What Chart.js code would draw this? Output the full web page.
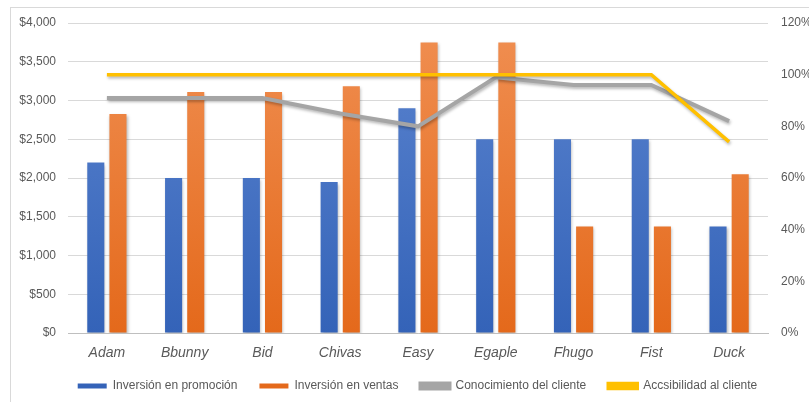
<!DOCTYPE html>
<html>
<head>
<meta charset="utf-8">
<script src="https://cdn.jsdelivr.net/npm/chart.js@4"></script>
<style>
  html, body { margin: 0; padding: 0; background: #fff; overflow: hidden; }
  #wrap { position: relative; width: 809px; height: 402px; }
  #frame { position: absolute; left: 10px; top: 7px; width: 830px; height: 430px; border: 1px solid #d9d9d9; }
  canvas { position: absolute; left: 0; top: 0; }
</style>
</head>
<body>
<div id="wrap">
  <div id="frame"></div>
  <canvas id="chart" width="809" height="402"></canvas>
</div>
<script>
var clientes = ['Adam', 'Bbunny', 'Bid', 'Chivas', 'Easy', 'Egaple', 'Fhugo', 'Fist', 'Duck']
var promocion = [2200, 2000, 2000, 1950, 2900, 2500, 2500, 2500, 1375]
var ventas = [2825, 3110, 3110, 3185, 3750, 3750, 1375, 1375, 2050]
var conocimiento = [91, 91, 91, 85, 80, 99, 96, 96, 82]
var accesibilidad = [100, 100, 100, 100, 100, 100, 100, 100, 74]

var tickColor = '#595959'
var gridColor = '#d9d9d9'

function barGradient(top, bottom) {
    return function (context) {
        var area = context.chart.chartArea
        if (!area) {
            return bottom
        }
        var g = context.chart.ctx.createLinearGradient(0, area.top, 0, area.bottom)
        g.addColorStop(0, top)
        g.addColorStop(1, bottom)
        return g
    }
}

// soft drop shadow like the office chart
var shadowPlugin = {
    id: 'shadow',
    beforeDatasetDraw: function (chart, args) {
        var ctx = chart.ctx
        ctx.save()
        ctx.shadowColor = 'rgba(0,0,0,0.28)'
        ctx.shadowBlur = 3
        ctx.shadowOffsetX = 1
        ctx.shadowOffsetY = 2
    },
    afterDatasetDraw: function (chart) {
        chart.ctx.restore()
    }
}

// nudge the legend to where the original sits
var legendShift = {
    id: 'legendShift',
    afterLayout: function (chart) {
        var lg = chart.legend
        lg.left += 13
        lg.right += 13
        lg.top -= 7
        lg.bottom -= 7
    }
}

new Chart(document.getElementById('chart'), {
    type: 'bar',
    data: {
        labels: clientes,
        datasets: [
            {
                label: 'Inversión en promoción',
                data: promocion,
                backgroundColor: barGradient('#5b84cf', '#3463b8'),
                yAxisID: 'y',
                order: 2
            },
            {
                label: 'Inversión en ventas',
                data: ventas,
                backgroundColor: barGradient('#f08f52', '#e4691b'),
                yAxisID: 'y',
                order: 2
            },
            {
                type: 'line',
                label: 'Conocimiento del cliente',
                data: conocimiento,
                borderColor: '#a5a5a5',
                backgroundColor: '#a5a5a5',
                borderWidth: 4,
                pointRadius: 0,
                tension: 0,
                yAxisID: 'y1',
                order: 1
            },
            {
                type: 'line',
                label: 'Accsibilidad al cliente',
                data: accesibilidad,
                borderColor: '#ffc000',
                backgroundColor: '#ffc000',
                borderWidth: 3.5,
                pointRadius: 0,
                tension: 0,
                yAxisID: 'y1',
                order: 0
            }
        ]
    },
    options: {
        responsive: false,
        animation: false,
        layout: { padding: { top: 23, left: 0, right: 0, bottom: -7 } },
        datasets: {
            bar: { categoryPercentage: 0.57, barPercentage: 0.77 }
        },
        plugins: {
            tooltip: { enabled: false },
            legend: {
                position: 'bottom',
                labels: {
                    boxWidth: 29,
                    boxHeight: 5,
                    padding: 22,
                    color: tickColor,
                    font: { family: 'Liberation Sans', size: 12 },
                    sort: function (a, b) { return a.datasetIndex - b.datasetIndex }
                }
            }
        },
        scales: {
            x: {
                grid: { display: false, drawTicks: false },
                border: { display: true, color: '#bfbfbf', width: 1 },
                ticks: {
                    color: tickColor,
                    padding: 12,
                    font: { family: 'Liberation Sans', size: 14, style: 'italic' }
                },
                afterFit: function (scale) { scale.height = 32 }
            },
            y: {
                position: 'left',
                min: 0,
                max: 4000,
                grid: { color: gridColor, drawTicks: false },
                border: { display: false },
                ticks: {
                    stepSize: 500,
                    color: tickColor,
                    padding: 12,
                    font: { family: 'Liberation Sans', size: 12 },
                    callback: function (v) { return '$' + v.toLocaleString('en-US') }
                },
                afterFit: function (scale) { scale.width = 68 }
            },
            y1: {
                position: 'right',
                min: 0,
                max: 120,
                grid: { display: false, drawTicks: false },
                border: { display: false },
                ticks: {
                    stepSize: 20,
                    color: tickColor,
                    padding: 13,
                    font: { family: 'Liberation Sans', size: 12 },
                    callback: function (v) { return v + '%' }
                },
                afterFit: function (scale) { scale.width = 41 }
            }
        }
    },
    plugins: [shadowPlugin, legendShift]
})
</script>
</body>
</html>
